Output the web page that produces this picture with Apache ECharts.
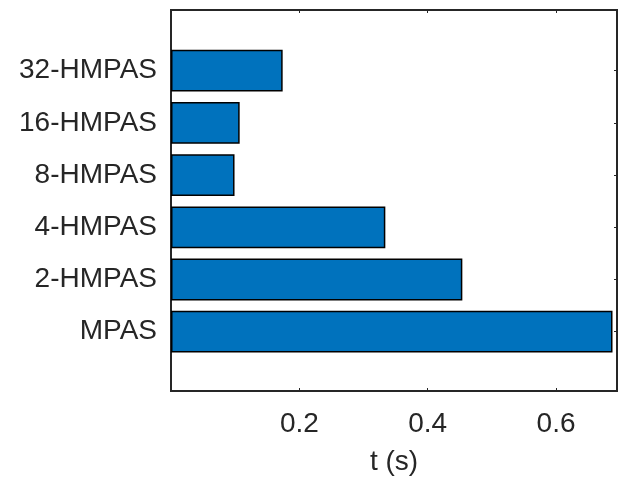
<!DOCTYPE html>
<html>
<head>
<meta charset="utf-8">
<script src="https://cdn.jsdelivr.net/npm/echarts@6/dist/echarts.min.js"></script>
<style>
  html, body { margin: 0; padding: 0; background: #ffffff; }
  #chart { width: 620px; height: 477px; }
</style>
</head>
<body>
<div id="chart"></div>
<script>
// Runtime per method, bottom to top
const categories = ['MPAS', '2-HMPAS', '4-HMPAS', '8-HMPAS', '16-HMPAS', '32-HMPAS'];
const times = [0.688, 0.454, 0.334, 0.099, 0.107, 0.174];
const xTickLabels = [0.2, 0.4, 0.6];
const xMin = 0;
const xMax = 0.695;
const xLabel = 't (s)';

const ink = '#262626';
const font = 'Liberation Sans, Arial, Helvetica, sans-serif';
const fontSize = 28;

// Plot box geometry (px)
const boxLeft = 171, boxTop = 10, boxWidth = 446, boxHeight = 381;
// Band for the bar categories inside the box
const bandTop = 44.6, bandHeight = 313.2;

const chart = echarts.init(document.getElementById('chart'), null, { renderer: 'canvas' });

const showTick = v => xTickLabels.some(t => Math.abs(t - v) < 1e-9);

chart.setOption({
  animation: false,
  backgroundColor: '#ffffff',
  grid: [
    { left: boxLeft, top: boxTop, width: boxWidth, height: boxHeight, outerBoundsMode: 'none',
      containLabel: false,
      show: true, borderColor: ink, borderWidth: 2, backgroundColor: 'transparent' },
    { left: boxLeft, top: bandTop, width: boxWidth, height: bandHeight, outerBoundsMode: 'none',
      containLabel: false }
  ],
  xAxis: [
    { gridIndex: 0, type: 'value', min: xMin, max: xMax, interval: 0.2, position: 'bottom',
      axisLine: { show: false },
      axisTick: { show: true, inside: true, length: 3, lineStyle: { color: ink, width: 1 } },
      splitLine: { show: false },
      axisLabel: { show: true, margin: 19, color: ink, fontSize: fontSize, fontFamily: font,
        showMinLabel: false, showMaxLabel: false,
        formatter: v => showTick(v) ? v.toFixed(1) : '' },
      name: xLabel, nameLocation: 'middle', nameGap: 57,
      nameTextStyle: { color: ink, fontSize: fontSize, fontFamily: font } },
    { gridIndex: 0, type: 'value', min: xMin, max: xMax, interval: 0.2, position: 'top',
      axisLine: { show: false },
      axisTick: { show: true, inside: true, length: 3, lineStyle: { color: ink, width: 1 } },
      splitLine: { show: false }, axisLabel: { show: false } },
    { gridIndex: 1, type: 'value', min: xMin, max: xMax, show: false }
  ],
  yAxis: [
    { gridIndex: 0, type: 'value', show: false },
    { gridIndex: 1, type: 'category', data: categories, position: 'left',
      axisLine: { show: false },
      axisTick: { show: true, inside: true, length: 3, alignWithLabel: true, lineStyle: { color: ink, width: 1 } },
      axisLabel: { margin: 14, color: ink, fontSize: fontSize, fontFamily: font, padding: [4, 0, 0, 0] } },
    { gridIndex: 1, type: 'category', data: categories, position: 'right',
      axisLine: { show: false },
      axisTick: { show: true, inside: true, length: 3, alignWithLabel: true, lineStyle: { color: ink, width: 1 } },
      axisLabel: { show: false } }
  ],
  series: [
    { type: 'bar', xAxisIndex: 2, yAxisIndex: 1, data: times, barCategoryGap: '20%',
      itemStyle: { color: '#0072BD', borderColor: '#000000', borderWidth: 1.5 },
      z: 1 }
  ]
});
</script>
</body>
</html>
